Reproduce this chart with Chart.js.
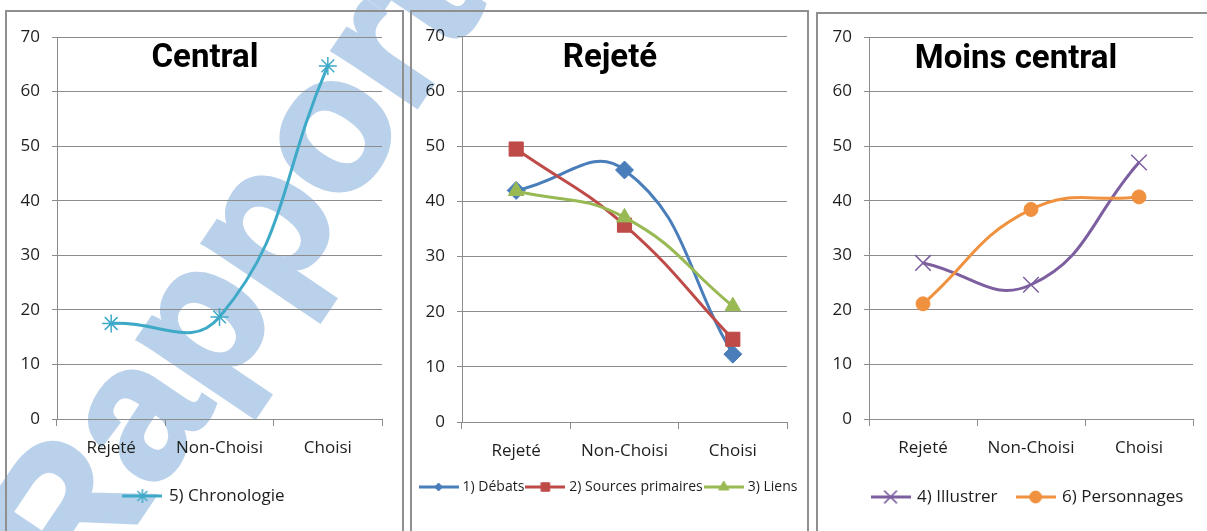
<!DOCTYPE html>
<html>
<head>
<meta charset="utf-8">
<script src="https://cdn.jsdelivr.net/npm/chart.js@4.4.0/dist/chart.umd.min.js"></script>
<style>
    html, body { margin: 0; padding: 0; width: 1207px; height: 531px; overflow: hidden; background: #fff; }
    body { position: relative; }
    .panel { position: absolute; border: 2px solid #8f8f8f; width: 395px; height: 540px; }
    .panel canvas { display: block; }
    #wm {
        position: absolute; left: 79px; top: 607px;
        font: bold 190px "Liberation Sans", sans-serif; line-height: 1; color: #b9d1ea;
        -webkit-text-stroke: 5px #b9d1ea;
        white-space: nowrap; transform-origin: 0 0;
        transform: rotate(-56deg) translate(0, -161px);
    }
</style>
</head>
<body>
<div id="wm">Rapport</div>
<div class="panel" style="left:5px;top:10px"><canvas id="c1" width="395" height="540"></canvas></div>
<div class="panel" style="left:410px;top:10px"><canvas id="c2" width="395" height="540"></canvas></div>
<div class="panel" style="left:816px;top:12px"><canvas id="c3" width="420" height="540"></canvas></div>
<script>
// Data
const categories = ['Rejeté', 'Non-Choisi', 'Choisi']
const yMin = 0
const yMax = 70
const yStep = 10

const chronologie = [17.5, 18.7, 64.7]
const debats = [42.0, 45.7, 12.3]
const sourcesPrimaires = [49.5, 35.7, 15.0]
const liens = [41.9, 37.1, 21.0]
const illustrer = [28.6, 24.6, 47.0]
const personnages = [21.1, 38.4, 40.7]

const gridColor = '#8c8c8c'
const textColor = '#1e1e1e'
const tickFont = { family: '"Open Sans", sans-serif', size: 17 }

// small line + marker image used in the legends
function legendIcon(color, style, r, bw) {
    const c = document.createElement('canvas')
    c.width = 40
    c.height = 18
    const g = c.getContext('2d')
    g.strokeStyle = color
    g.fillStyle = color
    g.lineWidth = 3
    g.beginPath()
    g.moveTo(0, 9)
    g.lineTo(40, 9)
    g.stroke()
    g.lineWidth = bw
    Chart.helpers.drawPoint(g, { pointStyle: style, radius: r, borderWidth: bw, rotation: 0 }, 20, 9)
    return c
}

function series(label, data, color, style, r, bw, order) {
    return {
        label: label,
        data: data,
        borderColor: color,
        backgroundColor: color,
        borderWidth: 3,
        tension: 0.45,
        pointStyle: style,
        pointRadius: r,
        pointHoverRadius: r,
        pointBorderWidth: bw,
        order: order
    }
}

// draws the bold title inside the plot, like the original
const panelTitle = {
    id: 'panelTitle',
    afterDatasetsDraw(chart, args, opts) {
        const ctx = chart.ctx
        ctx.save()
        ctx.font = 'bold 33px Roboto, sans-serif'
        ctx.fillStyle = '#000'
        ctx.textAlign = 'center'
        ctx.textBaseline = 'alphabetic'
        ctx.fillText(opts.text, opts.x, opts.y)
        ctx.restore()
    }
}

function makeChart(id, title, datasets, icons, lay) {
    return new Chart(document.getElementById(id), {
        type: 'line',
        data: { labels: categories, datasets: datasets },
        options: {
            responsive: false,
            animation: false,
            layout: { padding: { top: lay.top, left: 0, right: 0, bottom: lay.padB } },
            scales: {
                x: {
                    offset: true,
                    grid: { display: true, drawOnChartArea: false, offset: true, color: gridColor, tickLength: 7 },
                    border: { display: true, color: gridColor },
                    ticks: { font: tickFont, color: textColor, padding: lay.xPad, maxRotation: 0 },
                    afterFit(s) { s.height = lay.xH }
                },
                y: {
                    min: yMin,
                    max: yMax,
                    grid: { color: gridColor, tickLength: 5 },
                    border: { display: true, color: gridColor },
                    ticks: { stepSize: yStep, font: tickFont, color: textColor, padding: 12 },
                    afterFit(s) { s.width = lay.left }
                },
                gap: {
                    type: 'linear',
                    position: 'right',
                    grid: { display: false, drawTicks: false },
                    border: { display: false },
                    ticks: { display: false },
                    afterFit(s) { s.width = lay.right }
                }
            },
            plugins: {
                panelTitle: { text: title, x: lay.titleX, y: lay.titleY },
                tooltip: { enabled: false },
                legend: {
                    position: 'bottom',
                    labels: {
                        usePointStyle: true,
                        pointStyleWidth: lay.boxW,
                        boxHeight: lay.fs,
                        padding: lay.legPad,
                        color: textColor,
                        font: { family: '"Open Sans", sans-serif', size: lay.fs },
                        sort: (a, b) => a.datasetIndex - b.datasetIndex,
                        generateLabels(chart) {
                            return Chart.defaults.plugins.legend.labels.generateLabels(chart).map(item => {
                                item.pointStyle = icons[item.datasetIndex]
                                return item
                            })
                        }
                    }
                }
            }
        },
        plugins: [panelTitle]
    })
}

makeChart('c1', 'Central', [
    series('5) Chronologie', chronologie, '#3fa9c8', 'star', 9, 1.5, 1)
], [
    legendIcon('#3fa9c8', 'star', 7, 1.5)
], { top: 25, left: 50, right: 20, xH: 58.5, xPad: 12, padB: 37.5, fs: 17, legPad: 10, boxW: 36, titleX: 198, titleY: 55 })

makeChart('c2', 'Rejeté', [
    series('1) Débats', debats, '#4a7ebb', 'rectRot', 9, 1, 3),
    series('2) Sources primaires', sourcesPrimaires, '#be4b48', 'rect', 10, 1, 2),
    series('3) Liens', liens, '#98b954', 'triangle', 9, 1, 1)
], [
    legendIcon('#4a7ebb', 'rectRot', 4, 1),
    legendIcon('#be4b48', 'rect', 6, 1),
    legendIcon('#98b954', 'triangle', 6, 1)
], { top: 24, left: 50, right: 20, xH: 54, xPad: 12, padB: 48, fs: 14, legPad: 4, boxW: 34, titleX: 198, titleY: 55 })

makeChart('c3', 'Moins central', [
    series('4) Illustrer', illustrer, '#7d5fa0', 'crossRot', 11, 1.5, 2),
    series('6) Personnages', personnages, '#f0913f', 'circle', 7, 1, 1)
], [
    legendIcon('#7d5fa0', 'crossRot', 9, 1.5),
    legendIcon('#f0913f', 'circle', 6, 1)
], { top: 23, left: 51, right: 45, xH: 49.5, xPad: 12, padB: 38.5, fs: 17, legPad: 20, boxW: 36, titleX: 198, titleY: 54 })
</script>
</body>
</html>
